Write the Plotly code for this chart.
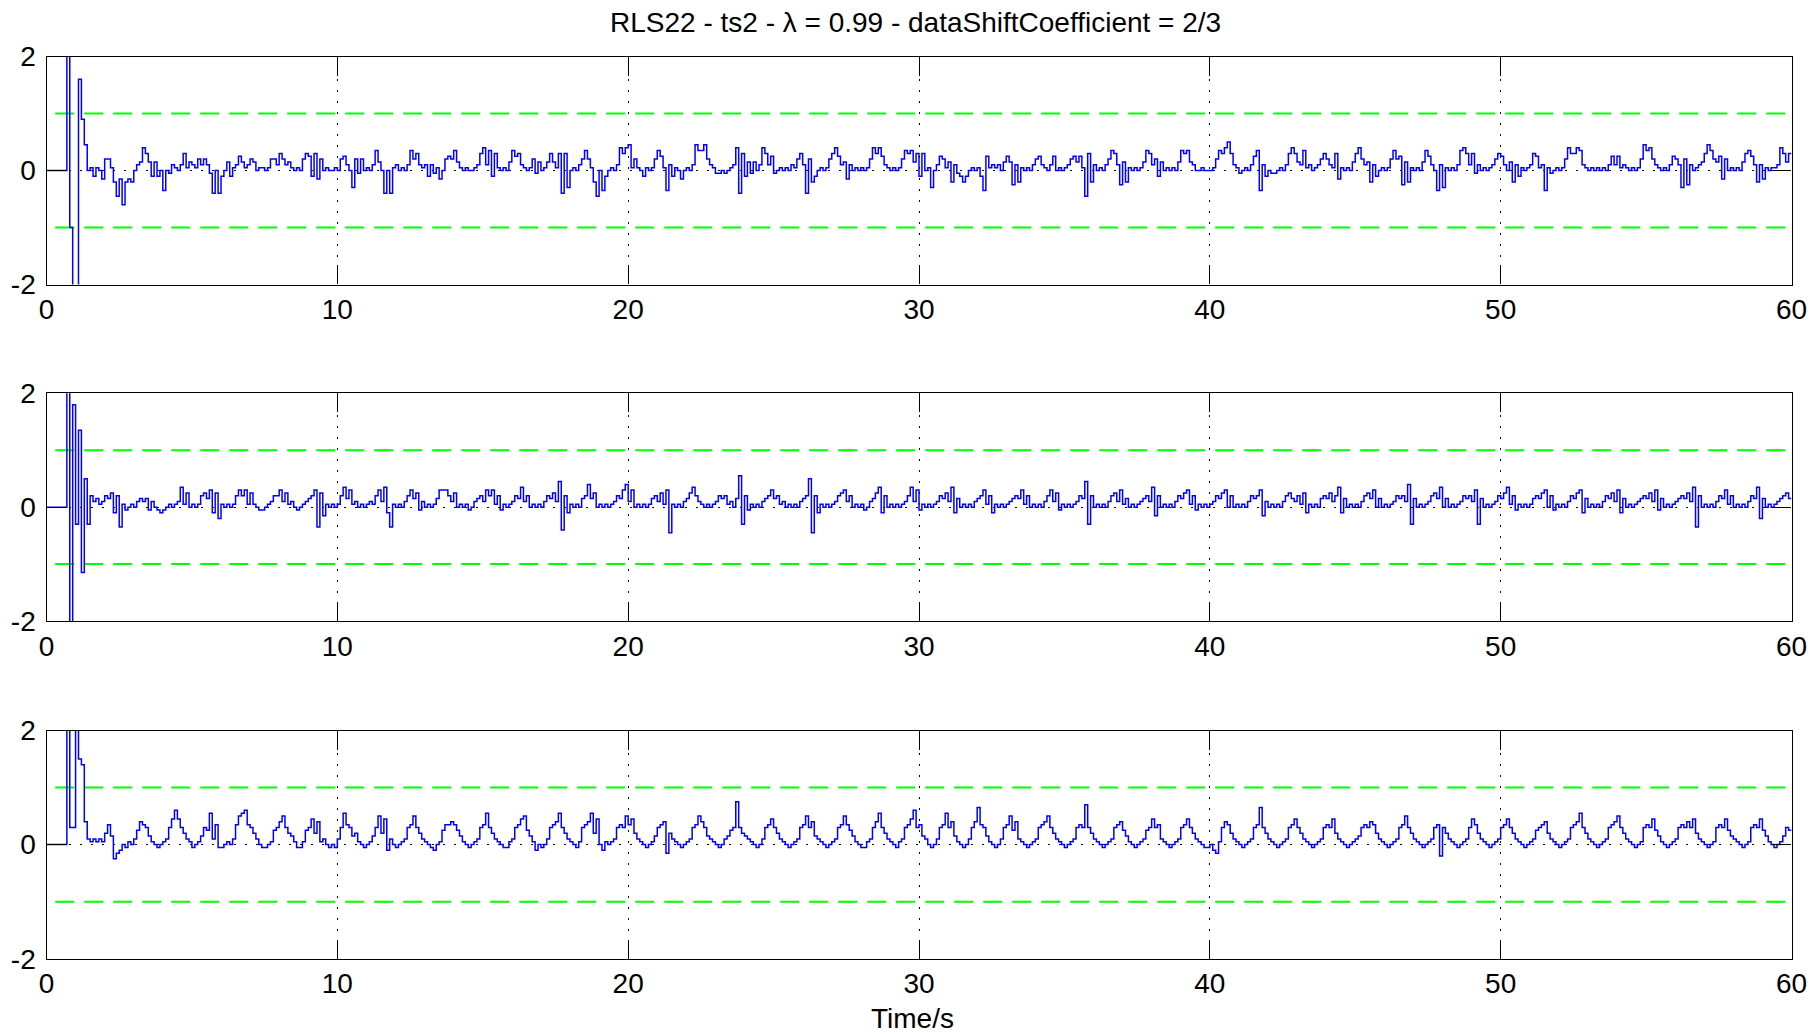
import numpy as np
import plotly.graph_objects as go

DT = 0.1

y_top = [
    0, 0, 0, 0, 0, 0, 0, 3, -1.0, -3,
    -3, 1.6, 0.9, 0.45, 0.0, 0.05, -0.1, 0.05, 0.0, -0.15,
    0.2, 0.2, 0.05, -0.2, -0.45, -0.15, -0.6, -0.2, -0.15, -0.2,
    0.0, 0.1, 0.15, 0.4, 0.3, 0.15, -0.1, 0.15, -0.1, 0.0,
    -0.35, 0.0, -0.05, 0.1, 0.05, 0.0, 0.1, 0.3, 0.05, 0.15,
    0.1, 0.05, 0.2, 0.1, 0.2, 0.1, -0.05, -0.4, 0.0, -0.4,
    -0.1, 0.0, 0.15, -0.1, 0.05, 0.1, 0.25, 0.15, 0.05, 0.1,
    0.2, 0.15, 0.0, 0.05, 0.05, 0.0, 0.05, 0.2, 0.2, 0.1,
    0.3, 0.2, 0.1, 0.15, 0.05, 0.0, 0.05, 0.0, 0.2, 0.3,
    0.25, -0.1, 0.3, -0.15, 0.2, 0.0, 0.05, 0.0, 0.0, 0.05,
    0.0, 0.2, 0.25, 0.1, 0.0, -0.3, 0.2, -0.05, 0.2, 0.0,
    0.05, 0.0, 0.1, 0.35, 0.15, 0.0, -0.4, 0.0, -0.4, 0.05,
    0.1, 0.0, 0.05, 0.0, 0.1, 0.35, 0.2, 0.3, 0.1, 0.05,
    0.1, -0.1, 0.1, -0.05, 0.05, -0.15, 0.0, 0.2, 0.25, 0.2,
    0.35, 0.15, 0.05, 0.0, 0.05, 0.0, 0.0, 0.05, 0.1, 0.3,
    0.4, 0.1, 0.35, -0.1, 0.3, 0.05, 0.0, 0.05, 0.0, 0.15,
    0.35, 0.25, 0.3, 0.1, 0.05, 0.0, 0.05, 0.2, -0.05, 0.15,
    0.0, 0.05, 0.15, 0.3, 0.15, 0.05, 0.3, -0.4, 0.3, -0.3,
    0.0, 0.05, 0.0, 0.1, 0.2, 0.35, 0.2, 0.05, -0.2, -0.45,
    0.0, -0.35, -0.1, 0.0, 0.05, 0.0, 0.1, 0.4, 0.3, 0.4,
    0.45, 0.05, 0.2, 0.05, 0.0, -0.1, 0.05, 0.0, 0.05, 0.2,
    0.35, 0.25, 0.05, -0.35, 0.1, -0.1, 0.05, 0.0, -0.15, 0.0,
    0.05, 0.0, 0.1, 0.45, 0.35, 0.35, 0.45, 0.2, 0.1, 0.05,
    -0.05, -0.05, 0.0, -0.05, 0.0, 0.05, 0.1, 0.4, -0.4, 0.3,
    -0.1, 0.15, -0.05, 0.15, 0.0, 0.1, 0.4, 0.3, 0.1, 0.25,
    -0.05, 0.0, 0.05, 0.0, 0.05, 0.0, 0.1, 0.05, 0.2, 0.3,
    0.1, -0.4, 0.2, -0.2, -0.1, 0.0, 0.05, 0.0, 0.05, 0.2,
    0.3, 0.4, 0.25, 0.1, 0.15, -0.15, 0.1, 0.0, 0.05, 0.0,
    0.05, 0.0, 0.05, 0.2, 0.4, 0.3, 0.4, 0.25, 0.1, 0.05,
    0.0, 0.05, 0.0, 0.05, 0.2, 0.35, 0.3, 0.35, 0.15, 0.3,
    -0.1, 0.3, 0.0, 0.05, -0.3, 0.0, 0.1, 0.25, 0.2, 0.05,
    0.15, -0.2, 0.1, -0.05, -0.1, -0.2, -0.1, 0.0, 0.05, 0.0,
    0.05, -0.1, -0.35, 0.25, 0.05, 0.1, 0.05, 0.1, 0.0, 0.15,
    0.25, 0.15, -0.25, 0.1, -0.2, 0.05, 0.0, 0.05, 0.0, 0.1,
    0.2, 0.25, 0.1, 0.05, 0.0, 0.1, 0.25, 0.0, 0.05, 0.0,
    0.05, 0.1, 0.2, 0.25, 0.15, 0.25, 0.05, -0.45, 0.3, -0.2,
    0.1, 0.0, 0.05, 0.0, 0.1, 0.2, 0.35, 0.3, 0.1, -0.25,
    0.15, -0.2, 0.05, 0.0, 0.05, 0.0, 0.05, 0.15, 0.35, 0.3,
    0.1, 0.2, -0.1, 0.15, 0.0, 0.05, 0.0, 0.05, 0.0, 0.15,
    0.35, 0.3, 0.35, 0.15, 0.1, 0.0, 0.0, 0.05, 0.0, 0.0,
    0.0, 0.05, 0.2, 0.35, 0.3, 0.4, 0.5, 0.3, 0.1, 0.05,
    -0.05, 0.0, 0.05, 0.0, 0.1, 0.25, 0.35, -0.35, 0.1, -0.1,
    0.0, -0.05, -0.05, 0.0, 0.05, 0.0, 0.1, 0.3, 0.4, 0.3,
    0.15, 0.1, 0.35, 0.05, 0.1, 0.0, 0.05, 0.1, 0.2, 0.3,
    0.2, 0.1, 0.05, 0.3, -0.15, 0.05, 0.0, 0.05, 0.0, 0.15,
    0.3, 0.4, 0.2, 0.1, 0.15, -0.2, 0.1, -0.1, 0.0, 0.05,
    0.0, 0.05, 0.2, 0.35, 0.2, 0.25, -0.25, 0.15, -0.2, 0.05,
    0.0, 0.05, 0.0, 0.15, 0.35, 0.25, 0.1, 0.0, -0.35, 0.1,
    -0.3, 0.05, 0.0, 0.05, 0.0, 0.1, 0.35, 0.4, 0.3, 0.1,
    0.3, -0.05, 0.1, 0.0, 0.05, 0.0, 0.05, 0.1, 0.2, 0.3,
    0.25, 0.1, 0.0, 0.15, -0.2, 0.1, -0.1, 0.05, 0.0, 0.05,
    0.1, 0.3, 0.25, 0.05, 0.1, -0.35, 0.05, -0.05, 0.0, 0.05,
    0.0, 0.05, 0.2, 0.4, 0.3, 0.3, 0.4, 0.35, 0.1, 0.05,
    0.0, 0.05, 0.0, 0.05, 0.0, 0.05, 0.0, 0.1, 0.25, 0.1,
    0.25, 0.05, 0.1, 0.05, 0.0, 0.05, 0.0, 0.05, 0.2, 0.45,
    0.35, 0.4, 0.2, 0.1, 0.05, 0.0, 0.05, 0.0, 0.1, 0.25,
    0.2, 0.1, -0.3, 0.2, -0.25, 0.1, 0.0, 0.05, 0.1, 0.15,
    0.3, 0.45, 0.35, 0.2, 0.15, 0.25, -0.15, 0.2, 0.0, 0.05,
    0.0, 0.05, 0.0, 0.15, 0.3, 0.35, 0.25, 0.1, -0.2, 0.1,
    -0.15, 0.05, 0.0, 0.05, 0.05, 0.1, 0.4, 0.3, 0.15, 0.3,
    0.3,
]

y_mid = [
    0, 0, 0, 0, 0, 0, 0, 3, -3, 1.8,
    -0.3, 1.35, -1.15, 0.5, -0.3, 0.2, 0.1, 0.15, 0.05, 0.1,
    0.2, 0.15, 0.25, -0.1, 0.2, -0.35, 0.05, -0.05, 0.0, 0.05,
    0.0, 0.1, 0.15, 0.1, 0.15, -0.05, 0.1, 0.0, -0.05, -0.1,
    -0.05, 0.0, 0.05, 0.0, 0.05, 0.1, 0.35, 0.05, 0.25, 0.0,
    0.05, 0.0, 0.05, 0.2, 0.25, 0.15, 0.3, -0.1, 0.25, -0.2,
    0.05, 0.0, 0.05, 0.0, 0.05, 0.2, 0.3, 0.2, 0.3, 0.05,
    0.25, 0.05, 0.0, -0.05, -0.05, 0.0, 0.05, 0.1, 0.2, 0.2,
    0.3, 0.1, 0.25, 0.05, 0.1, 0.0, -0.05, 0.0, 0.05, 0.1,
    0.15, 0.2, 0.3, -0.35, 0.25, -0.15, 0.05, 0.0, 0.05, 0.0,
    0.05, 0.2, 0.35, 0.15, 0.3, 0.05, 0.1, 0.0, 0.05, 0.0,
    0.05, 0.1, 0.05, 0.2, 0.3, 0.1, 0.35, -0.1, -0.35, 0.05,
    0.0, 0.05, 0.0, 0.1, 0.2, 0.3, 0.15, 0.25, -0.05, 0.1,
    0.0, 0.05, 0.0, 0.05, 0.15, 0.3, 0.3, 0.3, 0.2, 0.1,
    0.25, 0.0, 0.05, 0.0, 0.05, -0.05, 0.0, 0.1, 0.15, 0.2,
    0.1, 0.3, 0.2, 0.3, 0.05, 0.2, -0.05, 0.05, 0.0, 0.05,
    0.1, 0.2, 0.15, 0.35, 0.1, 0.2, 0.0, 0.05, 0.0, 0.05,
    0.0, 0.1, 0.2, 0.15, 0.25, 0.1, 0.45, -0.4, 0.2, -0.1,
    0.05, 0.0, 0.05, 0.0, 0.15, 0.2, 0.4, 0.15, 0.25, 0.0,
    0.05, 0.0, 0.05, 0.0, 0.05, 0.1, 0.2, 0.15, 0.3, 0.4,
    0.1, 0.3, 0.0, 0.05, 0.0, 0.05, 0.0, 0.05, 0.15, 0.2,
    0.1, 0.25, 0.05, 0.3, -0.45, 0.05, 0.0, 0.05, 0.0, 0.1,
    0.15, 0.25, 0.35, 0.2, 0.1, 0.05, 0.0, 0.05, 0.0, 0.05,
    0.1, 0.2, 0.15, 0.2, 0.05, 0.1, 0.0, 0.15, 0.55, -0.3,
    0.2, -0.05, 0.05, 0.0, 0.05, 0.0, 0.1, 0.15, 0.2, 0.3,
    0.15, 0.2, 0.05, 0.1, 0.0, 0.05, 0.0, 0.05, 0.0, 0.1,
    0.15, 0.2, 0.5, -0.45, 0.2, -0.1, 0.05, 0.0, 0.05, 0.0,
    0.05, 0.1, 0.2, 0.25, 0.3, 0.1, 0.2, 0.0, 0.05, 0.0,
    0.05, -0.05, 0.0, 0.1, 0.15, 0.25, 0.35, -0.1, 0.2, 0.0,
    0.05, 0.0, 0.05, 0.0, 0.05, 0.1, 0.2, 0.35, 0.1, 0.3,
    -0.05, 0.05, 0.0, 0.05, 0.0, 0.05, 0.1, 0.2, 0.15, 0.25,
    0.1, 0.35, -0.1, 0.15, 0.0, 0.05, 0.0, 0.05, 0.0, 0.1,
    0.15, 0.2, 0.3, 0.05, 0.2, -0.1, 0.05, 0.0, 0.05, 0.0,
    0.05, 0.1, 0.15, 0.2, 0.15, 0.3, 0.05, 0.2, 0.0, 0.05,
    0.0, 0.05, 0.0, 0.1, 0.2, 0.3, 0.1, 0.25, -0.05, 0.05,
    0.0, 0.05, 0.0, 0.05, 0.1, 0.2, 0.15, 0.45, -0.3, 0.2,
    0.0, 0.05, 0.0, 0.05, 0.0, 0.1, 0.2, 0.25, 0.1, 0.3,
    0.05, 0.15, 0.0, 0.05, 0.0, 0.05, 0.1, 0.15, 0.2, 0.1,
    0.35, -0.15, 0.2, 0.0, 0.05, 0.0, 0.05, 0.0, 0.1, 0.2,
    0.15, 0.25, 0.3, 0.05, 0.2, -0.05, 0.05, 0.0, 0.05, 0.0,
    0.05, 0.1, 0.2, 0.15, 0.25, 0.3, 0.0, 0.2, 0.0, 0.05,
    0.0, 0.05, 0.0, 0.1, 0.2, 0.15, 0.2, 0.3, -0.15, 0.1,
    0.0, 0.05, 0.0, 0.05, 0.0, 0.1, 0.2, 0.25, 0.15, 0.1,
    0.2, 0.05, 0.25, -0.1, 0.05, 0.0, 0.05, 0.0, 0.15, 0.2,
    0.15, 0.25, 0.1, 0.2, 0.35, -0.1, 0.15, 0.0, 0.05, 0.0,
    0.05, 0.0, 0.1, 0.2, 0.25, 0.15, 0.3, 0.0, 0.15, 0.0,
    0.05, 0.0, 0.05, 0.1, 0.2, 0.15, 0.2, 0.1, 0.4, -0.3,
    0.15, 0.0, 0.05, 0.0, 0.05, 0.1, 0.2, 0.25, 0.15, 0.35,
    0.0, 0.15, 0.0, 0.05, 0.0, 0.05, 0.1, 0.2, 0.15, 0.2,
    0.1, 0.3, -0.3, 0.15, 0.0, 0.05, 0.0, 0.05, 0.1, 0.2,
    0.15, 0.25, 0.35, 0.05, 0.2, -0.05, 0.05, 0.0, 0.05, 0.0,
    0.05, 0.15, 0.2, 0.15, 0.25, 0.3, 0.0, 0.2, -0.05, 0.05,
    0.0, 0.05, 0.0, 0.1, 0.2, 0.15, 0.25, 0.3, -0.1, 0.15,
    0.0, 0.05, 0.0, 0.05, 0.0, 0.1, 0.2, 0.15, 0.25, 0.1,
    0.3, -0.1, 0.15, 0.0, 0.05, 0.0, 0.05, 0.1, 0.15, 0.2,
    0.15, 0.25, 0.1, 0.3, -0.05, 0.15, 0.0, 0.05, 0.0, 0.05,
    0.1, 0.15, 0.2, 0.15, 0.25, 0.1, 0.35, -0.35, 0.2, 0.0,
    0.05, 0.0, 0.05, 0.0, 0.1, 0.2, 0.15, 0.3, 0.05, 0.2,
    0.0, 0.05, 0.0, 0.05, 0.0, 0.1, 0.2, 0.15, 0.35, -0.2,
    0.15, 0.0, 0.05, 0.0, 0.05, 0.1, 0.15, 0.2, 0.25, 0.15,
    0.15,
]

y_bot = [
    0, 0, 0, 0, 0, 0, 0, 3, 0.3, 0.3,
    3, 1.5, 1.4, 0.4, 0.1, 0.05, 0.1, 0.05, 0.1, 0.05,
    0.2, 0.35, 0.15, -0.25, -0.15, -0.1, 0.0, -0.05, 0.05, 0.0,
    0.1, 0.25, 0.4, 0.35, 0.3, 0.15, 0.05, 0.0, -0.05, 0.0,
    0.05, 0.1, 0.3, 0.45, 0.6, 0.45, 0.3, 0.2, 0.1, 0.05,
    -0.05, 0.0, 0.05, 0.15, 0.3, 0.25, 0.55, 0.1, 0.35, -0.05,
    -0.05, 0.0, 0.05, 0.0, 0.1, 0.35, 0.5, 0.55, 0.6, 0.35,
    0.3, 0.2, 0.1, 0.0, -0.05, -0.05, 0.0, 0.05, 0.25, 0.3,
    0.4, 0.5, 0.3, 0.2, 0.15, 0.05, -0.05, -0.05, 0.05, 0.25,
    0.3, 0.45, 0.2, 0.4, 0.05, 0.1, 0.0, -0.05, 0.0, -0.05,
    0.1, 0.3, 0.55, 0.35, 0.3, 0.15, 0.2, 0.05, 0.0, -0.05,
    0.0, 0.05, 0.15, 0.3, 0.5, 0.2, 0.45, -0.1, 0.1, 0.0,
    -0.05, 0.0, 0.05, 0.1, 0.3, 0.35, 0.5, 0.3, 0.2, 0.1,
    0.05, 0.0, -0.05, -0.1, 0.0, 0.05, 0.25, 0.35, 0.35, 0.4,
    0.35, 0.25, 0.15, 0.05, 0.0, -0.05, 0.0, 0.05, 0.1, 0.3,
    0.35, 0.55, 0.3, 0.2, 0.1, 0.05, 0.0, -0.05, -0.05, 0.05,
    0.1, 0.3, 0.35, 0.45, 0.5, 0.25, 0.15, 0.05, -0.1, 0.0,
    -0.05, 0.0, 0.1, 0.3, 0.35, 0.4, 0.55, 0.3, 0.2, 0.1,
    0.05, 0.0, -0.05, 0.05, 0.3, 0.35, 0.4, 0.55, 0.2, 0.45,
    0.0, -0.1, 0.05, 0.0, 0.05, 0.1, 0.3, 0.35, 0.3, 0.5,
    0.35, 0.45, 0.2, 0.1, 0.05, 0.0, -0.05, 0.0, 0.05, 0.15,
    0.3, 0.35, 0.4, -0.15, 0.2, 0.1, 0.05, 0.0, -0.05, 0.0,
    0.05, 0.1, 0.3, 0.35, 0.5, 0.4, 0.3, 0.15, 0.1, 0.05,
    0.0, -0.05, 0.0, 0.1, 0.15, 0.25, 0.3, 0.75, 0.3, 0.2,
    0.15, 0.1, 0.05, 0.0, -0.05, 0.0, 0.1, 0.3, 0.35, 0.45,
    0.3, 0.2, 0.1, 0.05, 0.0, -0.05, 0.0, 0.05, 0.1, 0.3,
    0.35, 0.5, 0.3, 0.4, 0.15, 0.1, 0.05, 0.0, -0.05, 0.0,
    0.05, 0.1, 0.3, 0.35, 0.5, 0.35, 0.25, 0.15, 0.05, 0.0,
    -0.05, -0.05, 0.05, 0.1, 0.3, 0.4, 0.55, 0.3, 0.2, 0.1,
    0.05, 0.0, -0.05, 0.05, 0.1, 0.3, 0.35, 0.45, 0.6, 0.3,
    0.35, 0.15, 0.1, 0.0, -0.05, 0.0, 0.1, 0.3, 0.35, 0.55,
    0.3, 0.4, 0.15, 0.05, 0.0, -0.05, 0.0, 0.1, 0.3, 0.4,
    0.65, 0.35, 0.3, 0.15, 0.05, 0.0, -0.05, 0.0, 0.1, 0.3,
    0.35, 0.5, 0.25, 0.4, 0.1, 0.05, 0.0, -0.05, 0.0, 0.05,
    0.1, 0.3, 0.35, 0.4, 0.5, 0.3, 0.2, 0.1, 0.05, 0.0,
    -0.05, 0.0, 0.05, 0.1, 0.3, 0.35, 0.3, 0.7, 0.3, 0.2,
    0.1, 0.05, 0.0, -0.05, 0.0, 0.05, 0.1, 0.3, 0.35, 0.4,
    0.25, 0.15, 0.05, 0.0, -0.05, 0.0, 0.05, 0.1, 0.25, 0.3,
    0.45, 0.3, 0.35, 0.1, 0.05, 0.0, -0.05, 0.0, 0.05, 0.1,
    0.3, 0.35, 0.45, 0.3, 0.2, 0.1, 0.05, 0.0, -0.05, -0.05,
    0.0, -0.1, -0.15, 0.05, 0.3, 0.4, 0.35, 0.2, 0.1, 0.05,
    0.0, -0.05, 0.0, 0.05, 0.1, 0.3, 0.35, 0.65, 0.3, 0.2,
    0.1, 0.05, 0.0, -0.05, 0.0, 0.05, 0.1, 0.3, 0.35, 0.45,
    0.3, 0.2, 0.1, 0.05, 0.0, -0.05, 0.0, 0.05, 0.1, 0.3,
    0.35, 0.3, 0.45, 0.2, 0.1, 0.05, 0.0, -0.05, 0.0, 0.05,
    0.1, 0.15, 0.3, 0.35, 0.3, 0.4, 0.35, 0.2, 0.1, 0.05,
    0.0, -0.05, 0.0, 0.05, 0.1, 0.3, 0.35, 0.5, 0.3, 0.2,
    0.1, 0.05, 0.0, -0.05, 0.0, 0.05, 0.1, 0.3, 0.35, -0.2,
    0.3, 0.2, 0.1, 0.05, 0.0, -0.05, 0.0, 0.05, 0.1, 0.3,
    0.45, 0.35, 0.2, 0.1, 0.05, 0.0, -0.05, 0.0, 0.05, 0.1,
    0.3, 0.35, 0.45, 0.3, 0.2, 0.1, 0.05, 0.0, -0.05, 0.0,
    0.05, 0.1, 0.25, 0.3, 0.35, 0.4, 0.2, 0.1, 0.05, 0.0,
    -0.05, 0.0, 0.05, 0.1, 0.3, 0.35, 0.4, 0.55, 0.3, 0.2,
    0.1, 0.05, 0.0, -0.05, 0.0, 0.05, 0.1, 0.3, 0.35, 0.4,
    0.5, 0.3, 0.2, 0.1, 0.05, 0.0, -0.05, 0.0, 0.05, 0.3,
    0.35, 0.3, 0.45, 0.25, 0.15, 0.05, 0.0, -0.05, 0.0, 0.05,
    0.1, 0.3, 0.35, 0.3, 0.4, 0.3, 0.45, 0.2, 0.1, 0.05,
    0.0, -0.05, 0.0, 0.05, 0.3, 0.35, 0.3, 0.45, 0.25, 0.15,
    0.1, 0.05, 0.0, -0.05, 0.0, 0.05, 0.3, 0.35, 0.3, 0.45,
    0.25, 0.15, 0.05, 0.0, -0.05, 0.0, 0.05, 0.15, 0.3, 0.25,
    0.25,
]

x_tick_vals = [0, 10, 20, 30, 40, 50, 60]
x_tick_text = ["0", "10", "20", "30", "40", "50", "60"]
y_tick_vals = [-2, 0, 2]
y_tick_text = ["-2", "0", "2"]
band_levels = [1, -1]
band_start = 0.3
x_range = [0, 60]
y_range = [-2, 2]

title_text = "RLS22 - ts2 - \u03bb = 0.99 - dataShiftCoefficient = 2/3"
xlabel_text = "Time/s"

# ---------------- layout helpers ----------------
W, H = 1815, 1034
FONT = "Liberation Sans, Arial, sans-serif"
x_dom = [46.5 / W, 1791.5 / W]
panels_px = [(56.5, 284.5), (393.3, 621.0), (730.5, 958.7)]

fig = go.Figure()
series = [y_top, y_mid, y_bot]

for i, (vals, (top, bot)) in enumerate(zip(series, panels_px)):
    n = i + 1
    xa = "x" if n == 1 else f"x{n}"
    ya = "y" if n == 1 else f"y{n}"
    t = np.arange(len(vals)) * DT
    for lvl in band_levels:
        fig.add_trace(go.Scatter(
            x=[band_start, x_range[1]], y=[lvl, lvl], mode="lines",
            line=dict(color="#00ff00", width=2, dash="19px,10px"),
            xaxis=xa, yaxis=ya, showlegend=False, hoverinfo="skip"))
    fig.add_trace(go.Scatter(
        x=t, y=vals, mode="lines",
        line=dict(color="#0000ff", width=1.5, shape="hv"),
        xaxis=xa, yaxis=ya, showlegend=False, hoverinfo="skip"))

    common = dict(
        showline=True, linecolor="black", linewidth=1.3, mirror="ticks",
        ticks="inside", ticklen=19, tickwidth=1.3, tickcolor="black",
        showgrid=True, gridcolor="black", gridwidth=1.2, griddash="2px,9px",
        zeroline=False, tickfont=dict(family=FONT, size=28, color="black"),
        fixedrange=True, automargin=False,
    )
    fig.layout[("xaxis" if n == 1 else f"xaxis{n}")] = dict(
        domain=x_dom, range=x_range, anchor=ya,
        tickmode="array", tickvals=x_tick_vals, ticktext=x_tick_text,
        ticklabelstandoff=0, **common)
    fig.layout[("yaxis" if n == 1 else f"yaxis{n}")] = dict(
        domain=[1 - bot / H, 1 - top / H], range=y_range, anchor=xa,
        tickmode="array", tickvals=y_tick_vals, ticktext=y_tick_text,
        ticklabelstandoff=4, **common)

fig.add_annotation(text=title_text, x=915 / W, y=1 - 23 / H, xref="paper", yref="paper",
                   xanchor="center", yanchor="middle", showarrow=False,
                   font=dict(family=FONT, size=28, color="black"))
fig.add_annotation(text=xlabel_text, x=912 / W, y=1 - 1018.6 / H, xref="paper", yref="paper",
                   xanchor="center", yanchor="middle", showarrow=False,
                   font=dict(family=FONT, size=28, color="black"))

fig.update_layout(
    width=W, height=H, margin=dict(l=0, r=0, t=0, b=0, pad=0),
    paper_bgcolor="white", plot_bgcolor="white", showlegend=False, autosize=False,
)

fig.write_html(
    "out.html",
    config={"displayModeBar": False, "responsive": False},
    post_script="document.documentElement.style.margin='0';document.body.style.margin='0';"
                "document.body.style.padding='0';document.body.style.overflow='hidden';",
)
